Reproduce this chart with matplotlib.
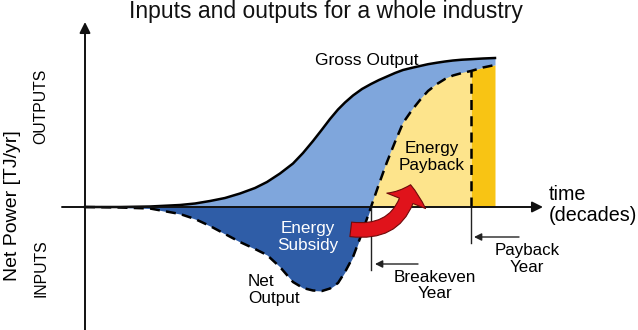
import numpy as np
import matplotlib
matplotlib.use("Agg")
import matplotlib.pyplot as plt
from matplotlib.patches import FancyArrowPatch

plt.rcParams['font.family'] = ['Liberation Sans', 'DejaVu Sans']

# time (years) and power (TJ/yr)
t = np.array([0, 3.5, 6.5, 9.5, 11.0, 12.5, 14.0, 15.5, 17.0, 18.2, 19.5, 20.8,
              21.8, 22.8, 23.7, 24.5, 25.3, 26.0, 26.8, 27.7, 28.6, 29.4, 30.2, 31.0,
              31.8, 32.7, 33.5, 34.3, 35.2, 36.0, 36.8, 37.7, 38.6, 39.8, 41.0])
gross = np.array([0, 0, 0.05, 0.2, 0.35, 0.6, 0.9, 1.35, 1.9, 2.5, 3.35, 4.35,
                  5.4, 6.6, 7.75, 8.8, 9.75, 10.45, 11.15, 11.8, 12.3, 12.7, 13.05, 13.4,
                  13.7, 13.92, 14.1, 14.28, 14.43, 14.55, 14.65, 14.73, 14.78, 14.85, 14.9])
net = np.array([0, -0.05, -0.15, -0.7, -1.2, -1.9, -2.7, -3.5, -4.2, -4.8, -6.0, -7.5,
                -8.1, -8.35, -8.4, -8.15, -7.6, -6.5, -5.0, -2.6, 0, 2.3, 4.5, 6.5,
                8.4, 9.7, 10.7, 11.6, 12.3, 12.8, 13.15, 13.4, 13.6, 13.95, 14.2])
breakeven_t = 28.6
payback_t = 38.6
payback_net = 13.6

light_blue = '#7fa6dc'
dark_blue = '#2f5da7'
yellow = '#fde48c'
gold = '#f8c414'

fig = plt.figure(figsize=(6.38, 3.30), dpi=100)
ax = fig.add_axes([0, 0, 1, 1])
ax.set_xlim(-8.5, 55.3)
ax.set_ylim(-12.3, 20.7)
ax.axis('off')

# filled areas
ax.fill_between(t, np.maximum(net, 0), gross, color=light_blue, lw=0, zorder=1)
ax.fill_between(t, np.minimum(net, 0), 0, color=dark_blue, lw=0, zorder=1)
ax.fill_between(t, 0, net, where=(net >= 0) & (t <= payback_t), color=yellow, lw=0, zorder=1)
ax.fill_between(t, 0, net, where=(t >= payback_t), color=gold, lw=0, zorder=1)

# curves
ax.plot(t, gross, color='black', lw=1.8, zorder=3, solid_joinstyle='round')
ax.plot(t, net, color='black', lw=1.8, ls=(0, (4, 2.5)), zorder=3)
ax.plot([payback_t, payback_t], [0, payback_net], color='black', lw=1.8, ls=(0, (4, 2.5)), zorder=3)

# axes with arrows
ax.annotate('', xy=(0, 18.5), xytext=(0, -12.3),
            arrowprops=dict(arrowstyle='-|>', lw=1.4, color='#111111', mutation_scale=16,
                            shrinkA=0, shrinkB=0), zorder=4)
ax.annotate('', xy=(45.8, 0), xytext=(-2.3, 0),
            arrowprops=dict(arrowstyle='-|>', lw=1.4, color='#111111', mutation_scale=16,
                            shrinkA=0, shrinkB=0), zorder=4)

# breakeven / payback markers
ax.plot([breakeven_t, breakeven_t], [0, -6.3], color='#222222', lw=1.0, zorder=3)
ax.plot([payback_t, payback_t], [0, -3.6], color='#222222', lw=1.0, zorder=3)
ax.annotate('', xy=(29.0, -5.7), xytext=(33.3, -5.7),
            arrowprops=dict(arrowstyle='-|>', lw=1.0, color='#222222', mutation_scale=11,
                            shrinkA=0, shrinkB=0))
ax.annotate('', xy=(38.9, -3.0), xytext=(43.4, -3.0),
            arrowprops=dict(arrowstyle='-|>', lw=1.0, color='#222222', mutation_scale=11,
                            shrinkA=0, shrinkB=0))

# red curved arrow from subsidy to payback
red = FancyArrowPatch((26.3, -2.2), (32.6, 2.5),
                      connectionstyle='arc3,rad=0.5',
                      arrowstyle='simple,head_width=30,head_length=12,tail_width=10.5',
                      facecolor='#e0131b', edgecolor='#6e0a0a', lw=0.8, zorder=6)
ax.add_patch(red)

# text
ax.text(24.1, 18.9, 'Inputs and outputs for a whole industry', ha='center', va='baseline',
        fontsize=16.5, color='#111111')
ax.text(-7.2, 0.1, 'Net Power [TJ/yr]', rotation=90, ha='center', va='center', fontsize=14)
ax.text(-4.4, 10.1, 'OUTPUTS', rotation=90, ha='center', va='center', fontsize=11.3)
ax.text(-4.4, -6.1, 'INPUTS', rotation=90, ha='center', va='center', fontsize=11.3)
ax.text(28.15, 14.2, 'Gross Output', ha='center', va='baseline', fontsize=12.5, zorder=5)
ax.text(34.7, 5.0, 'Energy\nPayback', ha='center', va='center', fontsize=12.3,
        linespacing=1.15, zorder=5)
ax.text(22.3, -3.0, 'Energy\nSubsidy', ha='center', va='center', fontsize=12.3,
        linespacing=1.1, color='white', zorder=5)
ax.text(16.3, -8.3, 'Net\nOutput', ha='left', va='center', fontsize=12.3,
        linespacing=1.15, zorder=5)
ax.text(46.4, 0.2, 'time\n(decades)', ha='left', va='center', fontsize=14.2, linespacing=1.1)
ax.text(44.2, -5.2, 'Payback\nYear', ha='center', va='center', fontsize=12.2, linespacing=1.1)
ax.text(35.0, -7.85, 'Breakeven\nYear', ha='center', va='center', fontsize=12.3, linespacing=1.1)

fig.savefig('out.png', dpi=100)
